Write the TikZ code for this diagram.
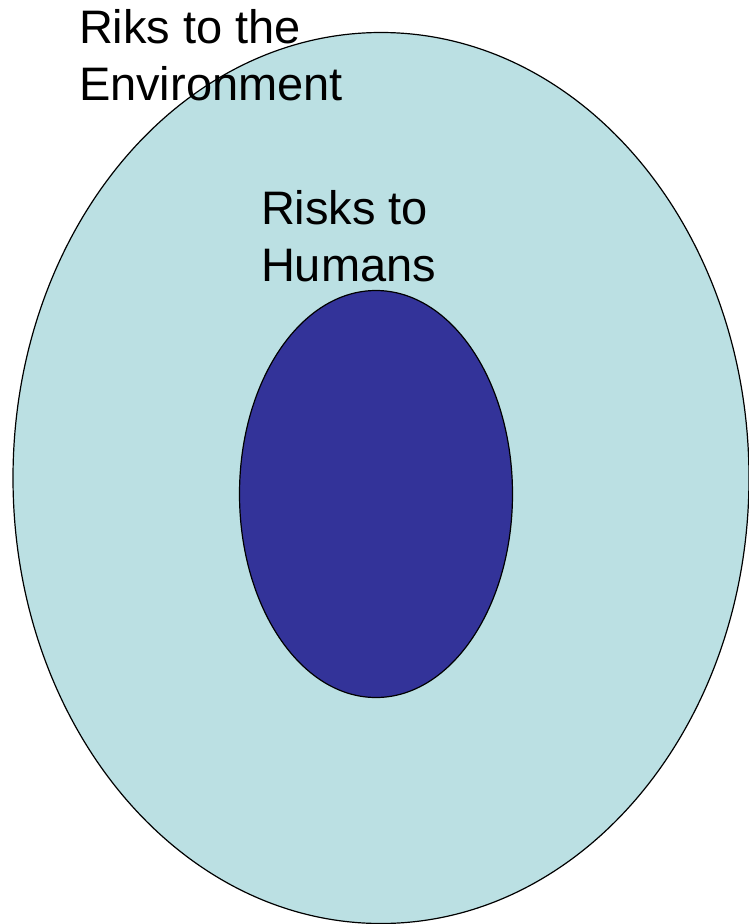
\documentclass[tikz,border=0pt]{standalone}
\usepackage{fontspec}
\setmainfont{Liberation Sans}
\usetikzlibrary{positioning, shapes.geometric}

\definecolor{envfill}{RGB}{187,224,227}
\definecolor{humfill}{RGB}{51,51,153}

\begin{document}
\begin{tikzpicture}[
    x=1pt, y=-1pt,
    every node/.style={inner sep=0pt, outer sep=0pt},
    zone/.style={ellipse, draw=black, line width=1.2pt},
    label/.style={align=left, anchor=north west, font=\fontsize{47}{57}\selectfont}
]
    % Frame
    \useasboundingbox (0,0) rectangle (749,924);

    % Areas
    \node[zone, fill=envfill, minimum width=736pt, minimum height=891pt] (env) at (381,478) {};
    \node[zone, fill=humfill, minimum width=273pt, minimum height=407pt] (hum) at (376,494) {};

    % Labels
    \node[label] (envtext) at (79,9) {Riks to the\\Environment};
    \node[label] (humtext) at (261,190) {Risks to\\Humans};
\end{tikzpicture}
\end{document}
